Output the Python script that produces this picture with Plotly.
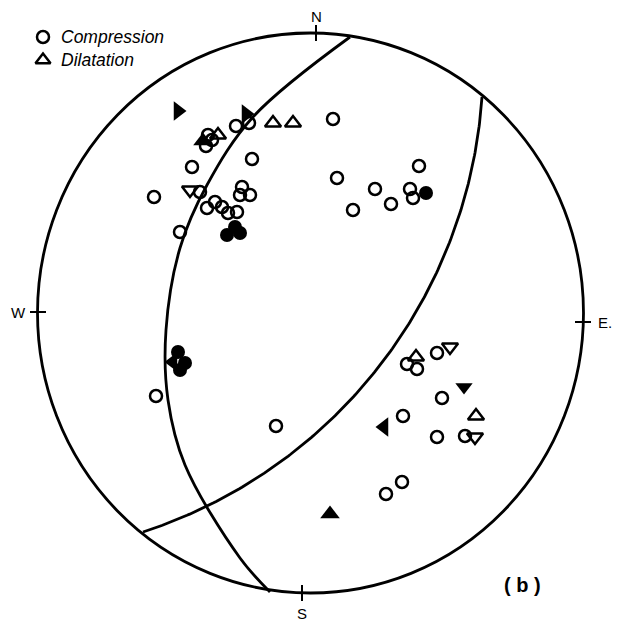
import numpy as np
import plotly.graph_objects as go

# Coordinates on the projection sheet (x to the right, y downward)
compression_x = [236, 249, 252, 192, 154, 200, 242, 240, 250, 207, 215, 222, 228, 237, 180,
                 208, 212, 206, 333, 337, 375, 353, 391, 410, 413, 419, 156, 276,
                 437, 407, 417, 442, 403, 437, 465, 402, 386]
compression_y = [126, 123, 159, 167, 197, 192, 187, 195, 195, 208, 202, 207, 213, 212, 232,
                 135, 140, 146, 119, 178, 189, 210, 204, 189, 198, 166, 396, 426,
                 353, 364, 369, 398, 416, 437, 436, 482, 494]

dil_up_x = [273, 293, 218, 416, 476]
dil_up_y = [123, 123, 135, 357, 416]
dil_down_x = [190, 450, 475]
dil_down_y = [190, 347, 437]

solid_circle_x = [426, 227, 240, 235, 178, 185, 180]
solid_circle_y = [193, 235, 233, 227, 352, 363, 370]

solid_tri_right_x = [178, 246]
solid_tri_right_y = [111, 114]
solid_tri_left_x = [384, 173]
solid_tri_left_y = [427, 362]
solid_tri_up_x = [330, 203]
solid_tri_up_y = [514, 141]
solid_tri_down_x = [464]
solid_tri_down_y = [387]

# Nodal plane 1 traced as a smooth curve
plane1_x = [350, 253, 207, 180, 166, 168, 185, 240, 270]
plane1_y = [37, 117, 185, 248, 330, 400, 465, 558, 592]
# Nodal plane 2: start point, a point on the arc, end point
plane2_x = [482, 413, 143]
plane2_y = [97, 317, 532]

# Primitive circle
cx, cy, rx, ry = 310.5, 313.0, 273.0, 280.0

# Direction ticks and labels
tick_x = [316, 302, 38, 583]
tick_y = [33, 593, 312, 322]
dir_labels = ["N", "S", "W", "E."]
label_x = [316, 302, 18, 605]
label_y = [16, 613, 312, 322]


def arc_through(xs, ys, n=200):
    """Circular arc (projected great circle) through three points."""
    (x1, x2, x3), (y1, y2, y3) = xs, ys
    d = 2 * (x1 * (y2 - y3) + x2 * (y3 - y1) + x3 * (y1 - y2))
    ux = ((x1**2 + y1**2) * (y2 - y3) + (x2**2 + y2**2) * (y3 - y1) + (x3**2 + y3**2) * (y1 - y2)) / d
    uy = ((x1**2 + y1**2) * (x3 - x2) + (x2**2 + y2**2) * (x1 - x3) + (x3**2 + y3**2) * (x2 - x1)) / d
    r = np.hypot(x1 - ux, y1 - uy)
    a1 = np.arctan2(y1 - uy, x1 - ux)
    a2 = np.arctan2(y2 - uy, x2 - ux)
    a3 = np.arctan2(y3 - uy, x3 - ux)

    def unwrap(a):
        return (a - a1) % (2 * np.pi)
    if unwrap(a2) < unwrap(a3):
        t = a1 + np.linspace(0, unwrap(a3), n)
    else:
        t = a1 - np.linspace(0, 2 * np.pi - unwrap(a3), n)
    return ux + r * np.cos(t), uy + r * np.sin(t)


fig = go.Figure()

fig.add_shape(type="circle", xref="x", yref="y",
              x0=cx - rx, x1=cx + rx, y0=cy - ry, y1=cy + ry,
              line=dict(color="black", width=2.8))

fig.add_trace(go.Scatter(x=plane1_x, y=plane1_y, mode="lines",
                         line=dict(color="black", width=2.8, shape="spline", smoothing=1.0),
                         hoverinfo="skip"))
ax, ay = arc_through(plane2_x, plane2_y)
fig.add_trace(go.Scatter(x=ax, y=ay, mode="lines",
                         line=dict(color="black", width=2.8),
                         hoverinfo="skip"))

# tick marks crossing the circle
for i, (tx, ty) in enumerate(zip(tick_x, tick_y)):
    if i < 2:
        fig.add_shape(type="line", x0=tx, x1=tx, y0=ty - 8, y1=ty + 8,
                      line=dict(color="black", width=2))
    else:
        fig.add_shape(type="line", x0=tx - 8, x1=tx + 8, y0=ty, y1=ty,
                      line=dict(color="black", width=2))

for lx, ly, t in zip(label_x, label_y, dir_labels):
    fig.add_annotation(x=lx, y=ly, text=t, showarrow=False,
                       font=dict(family="Liberation Sans, Arial", size=15, color="black"))

open_line = dict(color="black", width=2.5)
fig.add_trace(go.Scatter(x=compression_x, y=compression_y, mode="markers",
                         marker=dict(symbol="circle-open", size=12, color="black", line=open_line)))
fig.add_trace(go.Scatter(x=dil_up_x, y=dil_up_y, mode="markers",
                         marker=dict(symbol="triangle-up-open", size=14, color="black", line=open_line)))
fig.add_trace(go.Scatter(x=dil_down_x, y=dil_down_y, mode="markers",
                         marker=dict(symbol="triangle-down-open", size=14, color="black", line=open_line)))
fig.add_trace(go.Scatter(x=solid_circle_x, y=solid_circle_y, mode="markers",
                         marker=dict(symbol="circle", size=14, color="black")))
fig.add_trace(go.Scatter(x=solid_tri_right_x, y=solid_tri_right_y, mode="markers",
                         marker=dict(symbol="triangle-right", size=17, color="black")))
fig.add_trace(go.Scatter(x=solid_tri_left_x, y=solid_tri_left_y, mode="markers",
                         marker=dict(symbol="triangle-left", size=17, color="black")))
fig.add_trace(go.Scatter(x=solid_tri_up_x, y=solid_tri_up_y, mode="markers",
                         marker=dict(symbol="triangle-up", size=17, color="black")))
fig.add_trace(go.Scatter(x=solid_tri_down_x, y=solid_tri_down_y, mode="markers",
                         marker=dict(symbol="triangle-down", size=15, color="black")))

# Legend drawn in place
legend_sym_x = [43, 43]
legend_sym_y = [37, 60]
legend_text = ["Compression", "Dilatation"]
fig.add_trace(go.Scatter(x=legend_sym_x[:1], y=legend_sym_y[:1], mode="markers",
                         marker=dict(symbol="circle-open", size=12, color="black", line=open_line)))
fig.add_trace(go.Scatter(x=legend_sym_x[1:], y=legend_sym_y[1:], mode="markers",
                         marker=dict(symbol="triangle-up-open", size=13, color="black", line=open_line)))
for ly, t in zip(legend_sym_y, legend_text):
    fig.add_annotation(x=59, y=ly, text="<i>" + t + "</i>", showarrow=False, xanchor="left",
                       font=dict(family="Liberation Sans, Arial", size=17.5, color="black"))

fig.add_annotation(x=522, y=585, text="<b>( b )</b>", showarrow=False,
                   font=dict(family="Liberation Sans, Arial", size=20, color="black"))

fig.update_layout(width=623, height=629, margin=dict(l=0, r=0, t=0, b=0),
                  paper_bgcolor="white", plot_bgcolor="white", showlegend=False,
                  xaxis=dict(range=[0, 623], visible=False, fixedrange=True),
                  yaxis=dict(range=[629, 0], visible=False, fixedrange=True))

fig.write_html("out.html")
